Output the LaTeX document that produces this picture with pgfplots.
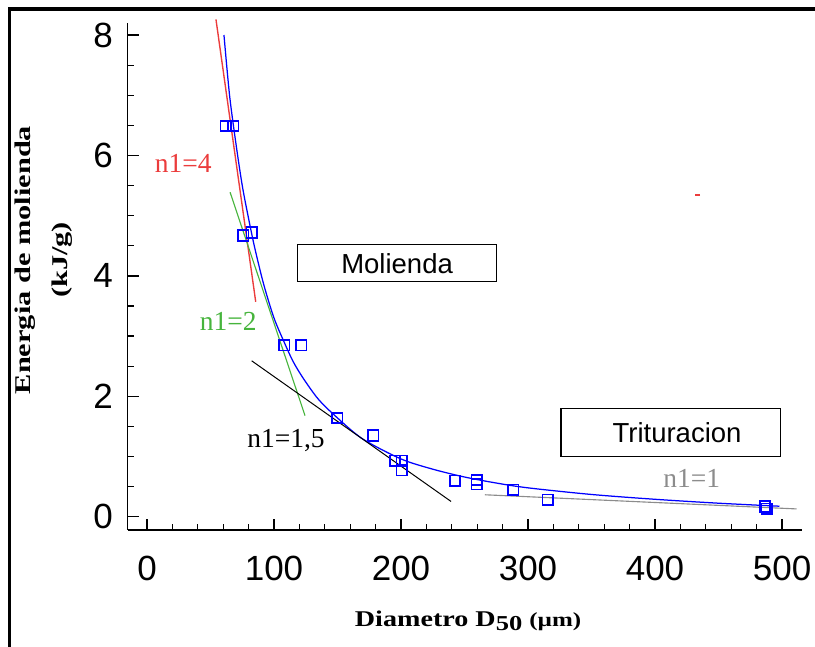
\documentclass[border=0pt]{standalone}
\usepackage{fontspec}
\setmainfont{Liberation Sans}
\newfontfamily\serif{Liberation Serif}
\usepackage{graphicx}
\usepackage{pgfplots}
\pgfplotsset{compat=1.18}

\definecolor{fitblue}{RGB}{0,0,255}
\definecolor{nred}{RGB}{235,60,60}
\definecolor{ngreen}{RGB}{70,180,60}
\definecolor{ngray}{RGB}{140,140,140}

\begin{document}
\begin{tikzpicture}
\begin{axis}[
    at={(0pt,0pt)}, anchor=south west,
    scale only axis,
    width=269.6pt, height=202.8pt,
    xmin=-15.2, xmax=515.5,
    ymin=-0.22, ymax=8.2,
    axis x line*=bottom, axis y line*=left,
    axis line style={-, line width=0.6pt},
    xtick={0,100,...,500}, minor x tick num=4,
    ytick={0,2,...,8}, minor y tick num=3,
    tick align=inside,
    major tick length=4.5pt, minor tick length=2.5pt,
    tick style={black, line width=0.5pt},
    ticklabel style={font=\fontsize{14}{16}\selectfont},
    xticklabel style={yshift=-7pt},
    yticklabel style={xshift=-2.4pt},
    /pgf/number format/assume math mode=true,
    xlabel={\scalebox{1.25}[1]{Diametro D\raisebox{-0.35ex}{\fontsize{8.5}{9}\selectfont 50} {\fontsize{8}{9}\selectfont (µm)}}},
    xlabel style={at={(rel axis cs:0.505,-0.1907)}, anchor=base, font=\serif\bfseries\fontsize{9}{11}\selectfont},
    ylabel={\scalebox{1.35}[1]{Energia de molienda}\\\scalebox{1.35}[1]{(kJ/g)}},
    ylabel style={at={(rel axis cs:-0.1251,0.5325)}, anchor=center, align=center, font=\serif\bfseries\fontsize{9}{14.7}\selectfont},
    clip=false,
]
% fitted curve
\addplot[fitblue, line width=0.5pt, smooth, tension=0.5] coordinates {
  (60.6,8.0) (65,7.0) (70,6.2) (75,5.5) (80,4.95) (85,4.45) (92,3.85)
  (100,3.3) (108,2.9) (115,2.58) (123,2.3) (135,1.95) (150,1.64)
  (170,1.29) (200,0.96) (225,0.79) (250,0.66) (275,0.56) (300,0.48)
  (350,0.37) (400,0.29) (450,0.225) (498,0.175)
};
% tangent lines
\addplot[nred, line width=0.55pt] coordinates {(54.3,8.26) (85.6,3.57)};
\addplot[ngreen, line width=0.45pt] coordinates {(65.4,5.39) (124.4,1.68)};
\addplot[black, line width=0.4pt] coordinates {(82.4,2.59) (239.4,0.254)};
\addplot[ngray, line width=0.45pt] coordinates {(266,0.365) (511.5,0.13)};
% measured points
\addplot[only marks, mark=square, mark size=2.1pt, mark options={draw=fitblue, line width=0.65pt}] coordinates {
  (62,6.49) (68,6.49) (75.8,4.67) (82.4,4.72) (108,2.85) (121.5,2.85)
  (149.9,1.64) (178.2,1.35) (195.3,0.93) (200.5,0.93) (200.5,0.77)
  (242.5,0.60) (259.6,0.61) (259.6,0.54) (288.4,0.45) (315.5,0.28)
  (486.6,0.17) (488,0.13)
};
% stray mark
\addplot[only marks, mark=-, mark size=1pt, nred, line width=0.6pt] coordinates {(433.5,5.34)};

\node[text=nred, font=\serif\fontsize{11}{13}\selectfont] at (axis cs:28.6,5.87) {n1=4};
\node[text=ngreen, font=\serif\fontsize{11}{13}\selectfont] at (axis cs:64,3.24) {n1=2};
\node[text=black, font=\serif\fontsize{11}{13}\selectfont] at (axis cs:109.4,1.26) {n1=1,5};
\node[text=ngray, font=\serif\fontsize{11}{13}\selectfont] at (axis cs:428.9,0.64) {n1=1};

\node[draw, line width=0.6pt, minimum width=79.6pt, minimum height=14.8pt, inner sep=0pt,
      font=\fontsize{11}{13}\selectfont] at (axis cs:196.9,4.21) {Molienda};
\node[draw, line width=0.6pt, minimum width=87.9pt, minimum height=19.1pt, inner sep=0pt,
      font=\fontsize{11}{13}\selectfont] at (axis cs:412.4,1.40) {\hspace{5pt}Trituracion};
\end{axis}
% figure frame (top and left edges remain)
\draw[line width=1.6pt] (-47.8pt,208.2pt) -- (274.92pt,208.2pt);
\draw[line width=1.2pt] (-47.2pt,-46.8pt) -- (-47.2pt,209pt);
\pgfresetboundingbox
\useasboundingbox (-51.08pt,-46.8pt) rectangle (274.92pt,212pt);
\end{tikzpicture}
\end{document}
